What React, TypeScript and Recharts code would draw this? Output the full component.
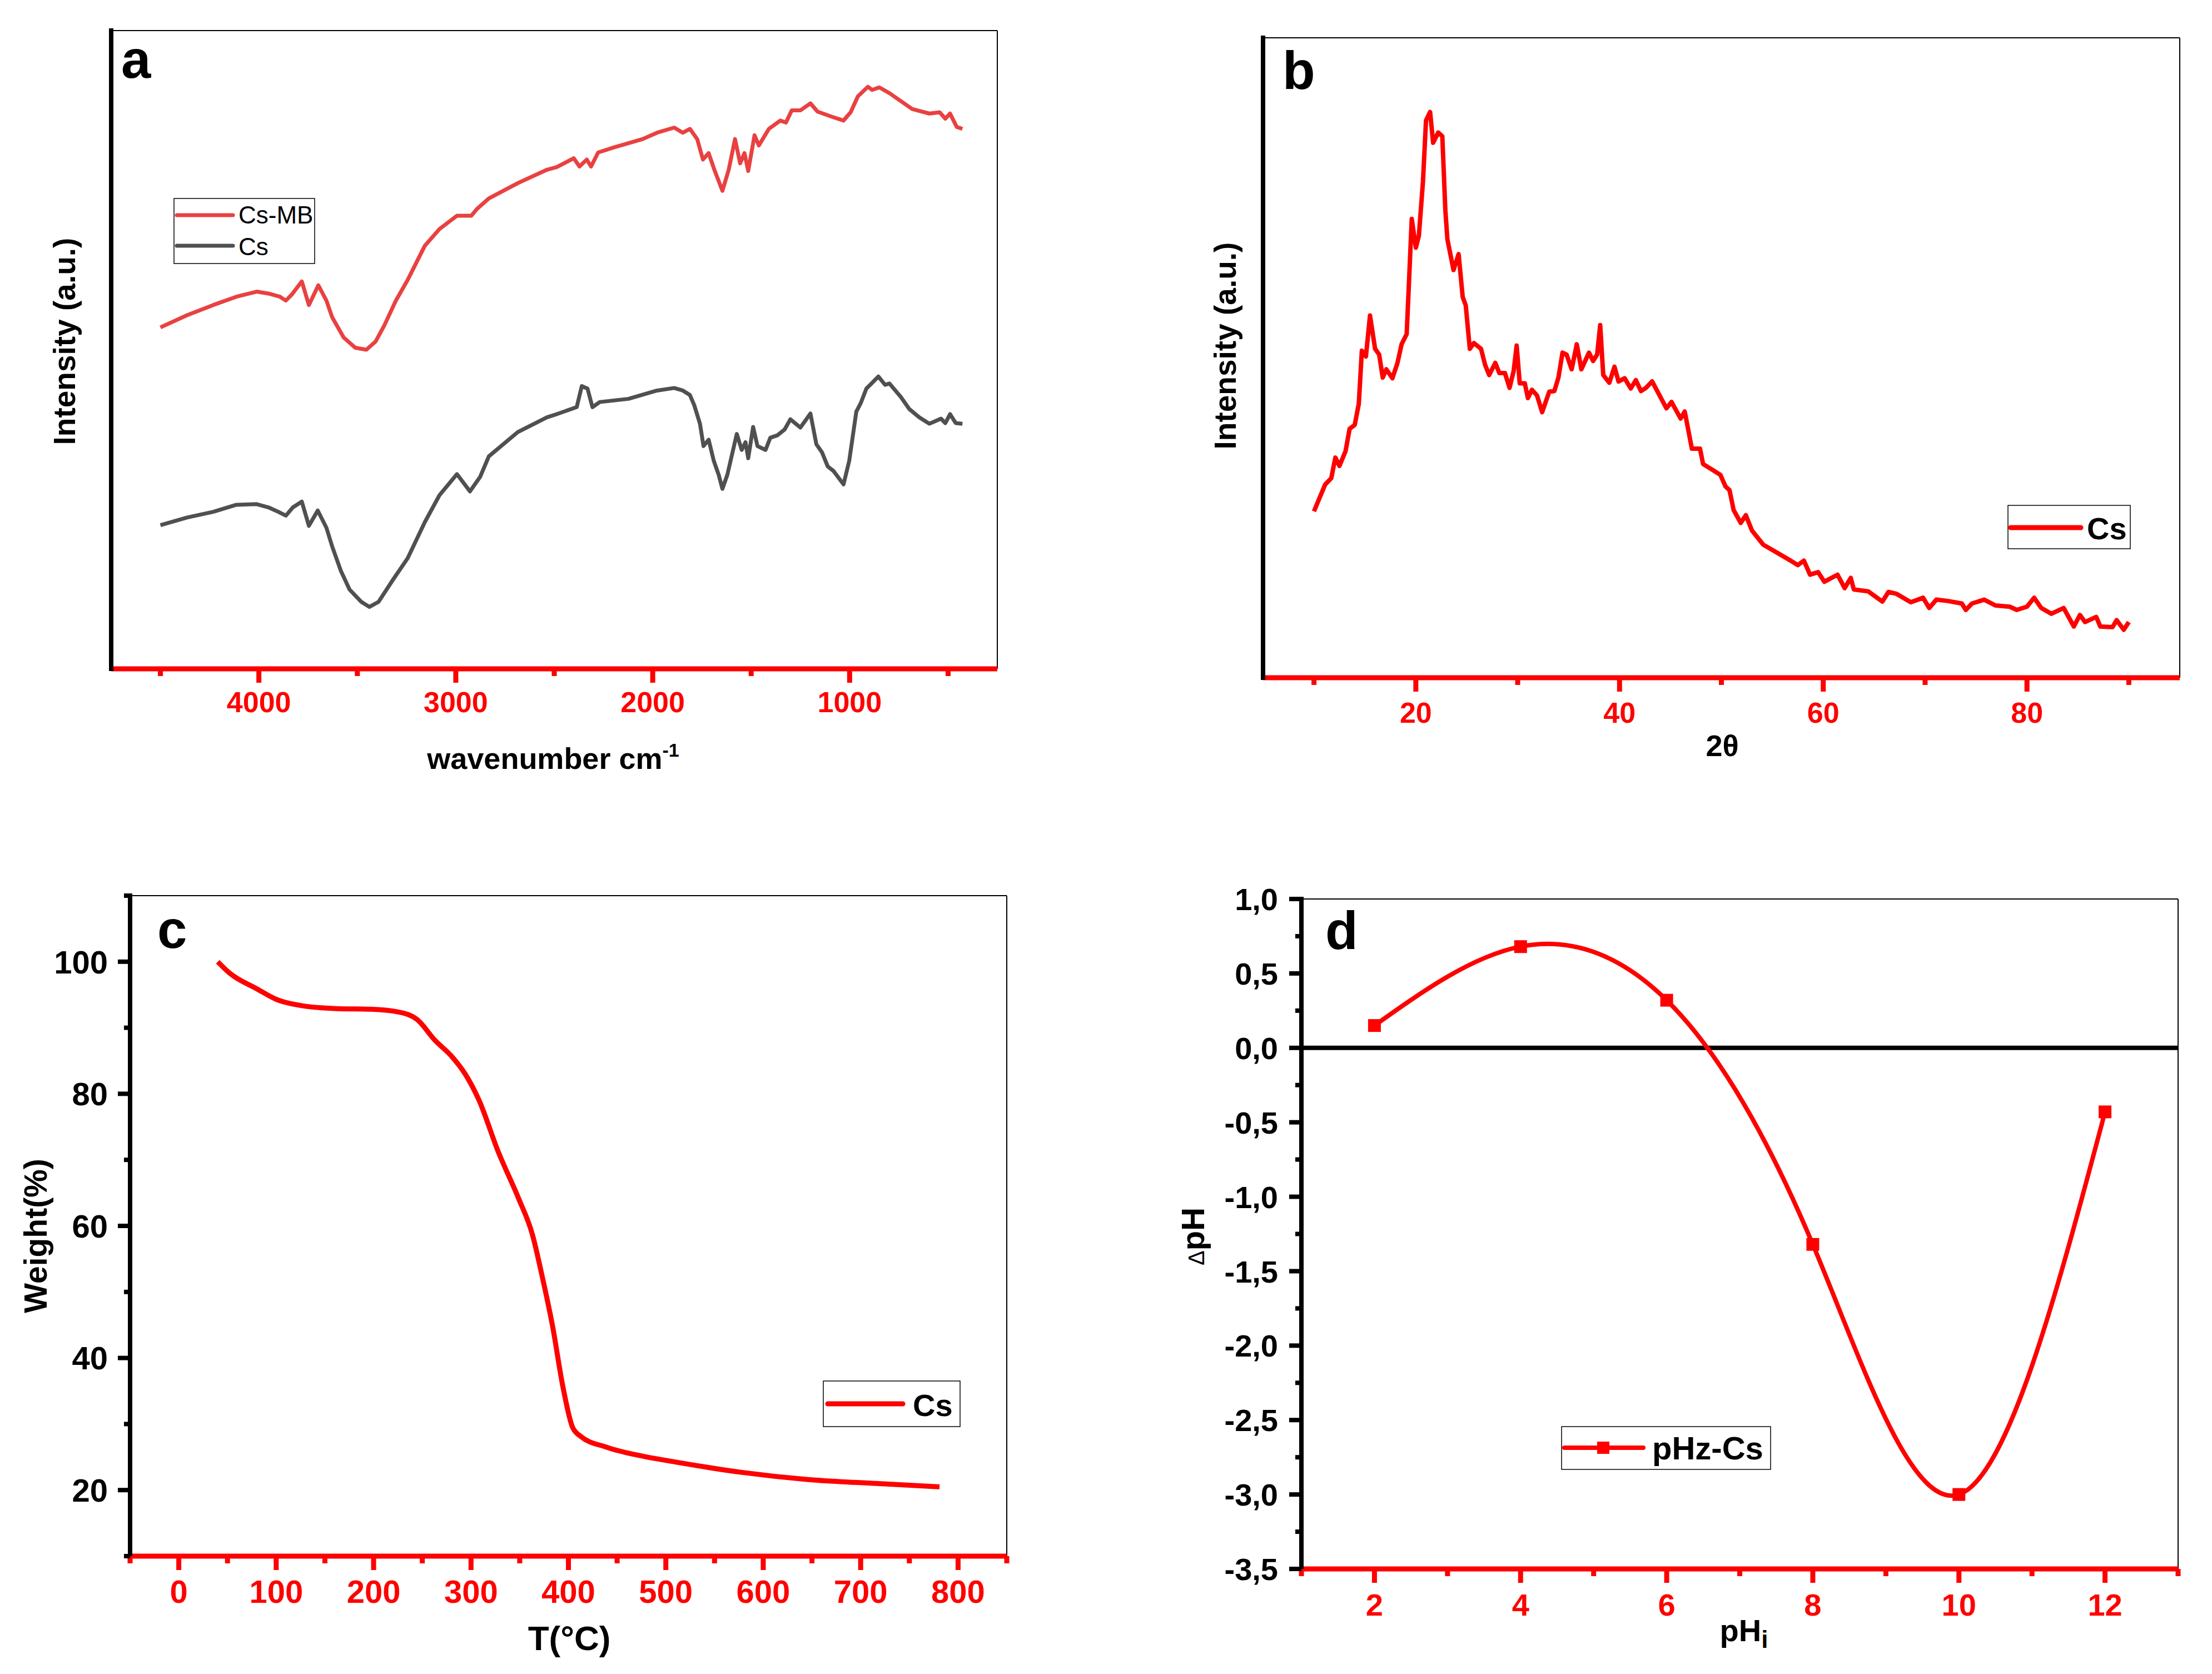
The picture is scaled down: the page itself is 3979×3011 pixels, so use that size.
import React from "react";
import { Line, LineChart, ReferenceLine, XAxis, YAxis } from "recharts";

const RED = "#FF0000";
const RED_SOFT = "#E94141";
const GRAY = "#505050";
const INK = "#000000";
const FONT = "'Liberation Sans', Arial, Helvetica, sans-serif";

// (a) FTIR, wavenumber cm-1 vs relative intensity (0-100 of the plot height)
const FTIR_CS_MB: [number, number][] = [
  [4500, 53.5], [4365, 55.4], [4232, 57.0], [4114, 58.3], [4011, 59.1], [3952, 58.8],
  [3893, 58.3], [3863, 57.7], [3834, 58.6], [3782, 60.7], [3746, 57.0], [3698, 60.1],
  [3657, 57.7], [3628, 55.1], [3569, 51.9], [3510, 50.3], [3454, 50.0], [3407, 51.3],
  [3363, 53.8], [3304, 57.7], [3245, 60.9], [3157, 66.3], [3083, 68.9], [2994, 71.0],
  [2921, 71.0], [2891, 72.1], [2832, 73.7], [2685, 76.1], [2537, 78.2], [2488, 78.6],
  [2401, 80.0], [2372, 78.7], [2335, 79.8], [2313, 78.7], [2277, 80.9], [2197, 81.7],
  [2051, 83.0], [1978, 84.0], [1891, 84.8], [1847, 84.0], [1811, 84.6], [1774, 83.0],
  [1745, 79.8], [1716, 80.8], [1687, 78.2], [1646, 74.9], [1614, 78.2], [1582, 83.0],
  [1556, 79.2], [1534, 80.8], [1515, 78.0], [1483, 83.6], [1461, 82.0], [1410, 84.6],
  [1352, 85.9], [1323, 85.6], [1294, 87.5], [1250, 87.5], [1199, 88.6], [1163, 87.3],
  [1090, 86.5], [1031, 85.9], [995, 87.2], [958, 89.7], [907, 91.2], [886, 90.7],
  [849, 91.1], [798, 90.2], [682, 87.7], [595, 87.0], [543, 87.2], [514, 86.2],
  [490, 87.0], [456, 84.9], [427, 84.6],
];
const FTIR_CS: [number, number][] = [
  [4500, 22.5], [4365, 23.7], [4232, 24.6], [4114, 25.7], [4011, 25.8], [3952, 25.3],
  [3901, 24.6], [3863, 24.0], [3827, 25.3], [3782, 26.2], [3746, 22.4], [3701, 24.8],
  [3657, 22.1], [3628, 19.2], [3583, 15.3], [3539, 12.4], [3480, 10.5], [3439, 9.7],
  [3392, 10.5], [3318, 14.0], [3245, 17.3], [3157, 23.0], [3083, 27.2], [2994, 30.5],
  [2928, 27.8], [2876, 30.1], [2832, 33.3], [2685, 37.1], [2537, 39.4], [2488, 39.9],
  [2386, 41.0], [2360, 44.3], [2331, 43.9], [2306, 41.0], [2269, 41.8], [2123, 42.3],
  [1978, 43.6], [1891, 44.0], [1847, 43.6], [1811, 42.9], [1789, 41.3], [1760, 38.4],
  [1742, 34.9], [1716, 35.9], [1690, 32.6], [1665, 30.4], [1646, 28.2], [1621, 30.4],
  [1573, 36.8], [1548, 34.3], [1529, 35.5], [1515, 33.0], [1490, 37.9], [1468, 34.9],
  [1427, 34.3], [1403, 36.2], [1366, 36.6], [1330, 37.5], [1301, 39.1], [1250, 37.8],
  [1199, 40.0], [1169, 35.2], [1140, 33.9], [1111, 31.7], [1082, 31.0], [1031, 28.9],
  [1002, 32.6], [966, 40.3], [944, 41.6], [915, 43.9], [886, 44.8], [854, 45.8],
  [820, 44.5], [798, 44.7], [740, 42.6], [697, 40.7], [646, 39.4], [595, 38.4],
  [536, 39.2], [514, 38.5], [490, 39.9], [461, 38.5], [427, 38.4],
];
const A_MAJOR = [4000, 3000, 2000, 1000];
const A_MINOR = [4500, 3500, 2500, 1500, 500];

// (b) XRD, 2theta vs relative intensity
const XRD_CS: [number, number][] = [
  [10.0, 26.0], [10.6, 28.3], [11.1, 30.2], [11.7, 31.2], [12.1, 34.4], [12.5, 33.1],
  [13.1, 35.4], [13.5, 38.9], [14.0, 39.5], [14.4, 42.8], [14.7, 51.1], [15.1, 50.2],
  [15.5, 56.6], [16.0, 51.4], [16.4, 50.5], [16.75, 46.9], [17.1, 48.2], [17.7, 46.8],
  [18.2, 49.2], [18.6, 52.1], [19.1, 53.7], [19.3, 60.8], [19.6, 71.7], [20.0, 67.2],
  [20.3, 69.1], [20.7, 77.5], [21.0, 87.1], [21.4, 88.4], [21.7, 83.6], [22.2, 85.2],
  [22.6, 84.6], [22.9, 73.0], [23.1, 68.5], [23.7, 63.7], [24.2, 66.2], [24.6, 59.5],
  [24.9, 58.2], [25.3, 51.4], [25.7, 52.3], [26.4, 51.4], [26.8, 48.9], [27.2, 47.3],
  [27.8, 49.2], [28.2, 47.6], [28.75, 47.6], [29.2, 45.3], [29.6, 47.9], [29.9, 51.9],
  [30.2, 46.0], [30.7, 46.0], [31.0, 43.7], [31.4, 45.0], [31.9, 44.1], [32.4, 41.5],
  [33.1, 44.7], [33.6, 44.8], [34.0, 46.9], [34.4, 50.8], [34.8, 50.5], [35.3, 48.2],
  [35.8, 52.1], [36.25, 48.2], [37.0, 50.8], [37.4, 49.5], [37.8, 50.5], [38.1, 55.1],
  [38.4, 47.3], [39.0, 46.1], [39.5, 48.6], [39.9, 46.3], [40.5, 46.8], [41.1, 45.2],
  [41.6, 46.5], [42.1, 44.8], [42.6, 45.3], [43.2, 46.3], [44.0, 43.9], [44.6, 42.1],
  [45.1, 43.1], [46.0, 40.5], [46.4, 41.6], [47.1, 35.8], [47.9, 35.8], [48.2, 33.4],
  [49.1, 32.5], [49.9, 31.7], [50.4, 29.9], [50.8, 29.3], [51.2, 26.2], [51.9, 24.2],
  [52.4, 25.4], [53.0, 23.0], [54.1, 20.8], [55.5, 19.5], [56.9, 18.2], [57.5, 17.6],
  [58.1, 18.3], [58.7, 16.1], [59.5, 16.5], [60.1, 15.0], [61.4, 16.1], [62.1, 14.0],
  [62.7, 15.6], [63.0, 13.8], [64.4, 13.5], [65.8, 11.9], [66.4, 13.4], [67.2, 13.1],
  [68.6, 11.8], [69.8, 12.5], [70.4, 10.9], [71.1, 12.2], [72.2, 12.0], [73.6, 11.6],
  [74.0, 10.6], [74.6, 11.6], [75.8, 12.2], [76.9, 11.3], [78.3, 11.1], [79.0, 10.6],
  [80.0, 11.1], [80.7, 12.5], [81.4, 10.9], [82.4, 10.0], [83.6, 10.9], [84.6, 8.0],
  [85.2, 9.8], [85.7, 8.7], [86.8, 9.5], [87.2, 8.0], [88.4, 7.9], [88.8, 9.0],
  [89.5, 7.5], [90.0, 8.7],
];
const B_MAJOR = [20, 40, 60, 80];
const B_MINOR = [10, 30, 50, 70, 90];

// (c) TGA, temperature vs weight %
const TGA_CS: [number, number][] = [
  [40, 100], [52, 98.3], [80, 95.9], [100, 94.3], [128, 93.3], [162, 92.9], [197, 92.8],
  [225, 92.4], [245, 91.2], [263, 88.1], [280, 85.7], [294, 83.0], [308, 79.1],
  [328, 71.2], [349, 64.1], [363, 58.7], [373, 52.4], [384, 44.6], [394, 35.9],
  [404, 29.6], [412, 28.2], [439, 26.5], [474, 25.2], [508, 24.3], [577, 22.7],
  [646, 21.6], [716, 21.0], [781, 20.5],
];
const C_X_MAJOR = [0, 100, 200, 300, 400, 500, 600, 700, 800];
const C_X_MINOR = [-50, 50, 150, 250, 350, 450, 550, 650, 750, 850];
const C_Y_MAJOR = [20, 40, 60, 80, 100];
const C_Y_MINOR = [10, 30, 50, 70, 90, 110];

// (d) point of zero charge
const PH_INITIAL = [2, 4, 6, 8, 10, 12];
const DELTA_PH = [0.15, 0.68, 0.32, -1.32, -3.0, -0.43];
const D_X_MAJOR = [2, 4, 6, 8, 10, 12];
const D_X_MINOR = [1, 3, 5, 7, 9, 11, 13];
const D_Y_MAJOR = [-3.5, -3.0, -2.5, -2.0, -1.5, -1.0, -0.5, 0, 0.5, 1.0];
const D_Y_MINOR = [-3.25, -2.75, -2.25, -1.75, -1.25, -0.75, -0.25, 0.25, 0.75];

const toPoints = (rows: [number, number][]) => rows.map(([x, v]) => ({ x, v }));
const pzcData = PH_INITIAL.map((x, i) => ({ x, v: DELTA_PH[i] }));
const comma = (v: number) => v.toFixed(1).replace(".", ",");

const PAD = { l: 260, t: 40, r: 40, b: 220 };

function frame(x0: number, y0: number, x1: number, y1: number) {
  return {
    style: { position: "absolute" as const, left: x0 - PAD.l, top: y0 - PAD.t },
    width: x1 - x0 + PAD.l + PAD.r,
    height: y1 - y0 + PAD.t + PAD.b,
  };
}

type TickProps = { x: number; y: number; payload: { value: number } };

function xTick(major: number[], size: number, gap: number, fmt: (v: number) => string = String) {
  return (p: TickProps) => {
    const big = major.includes(p.payload.value);
    return (
      <g>
        <line x1={p.x} x2={p.x} y1={p.y} y2={p.y + (big ? 25 : 13)} stroke={RED} strokeWidth={9} />
        {big && (
          <text x={p.x} y={p.y + gap} textAnchor="middle" fill={RED} fontSize={size} fontWeight="bold" fontFamily={FONT}>
            {fmt(p.payload.value)}
          </text>
        )}
      </g>
    );
  };
}

function yTick(major: number[], size: number, gap: number, fmt: (v: number) => string = String) {
  return (p: TickProps) => {
    const big = major.includes(p.payload.value);
    return (
      <g>
        <line x1={p.x} x2={p.x - (big ? 22 : 11)} y1={p.y} y2={p.y} stroke={INK} strokeWidth={8} />
        {big && (
          <text x={p.x - gap} y={p.y + size * 0.36} textAnchor="end" fill={INK} fontSize={size} fontWeight="bold" fontFamily={FONT}>
            {fmt(p.payload.value)}
          </text>
        )}
      </g>
    );
  };
}

const redAxis = { stroke: RED, strokeWidth: 9 };
const blackAxis = { stroke: INK, strokeWidth: 8, strokeLinecap: "square" as const };
const margin = { top: PAD.t, right: PAD.r, bottom: 0, left: 0 };

function FtirPanel() {
  const f = frame(200, 55, 1794, 1203);
  return (
    <div style={f.style}>
      <LineChart width={f.width} height={f.height} margin={margin}>
        <XAxis type="number" dataKey="x" domain={[250, 4750]} reversed allowDataOverflow
          ticks={[...A_MAJOR, ...A_MINOR]} interval={0} tickSize={0} tickMargin={0} tickLine={false}
          tick={xTick(A_MAJOR, 52, 78)} axisLine={redAxis} height={PAD.b} />
        <YAxis type="number" domain={[0, 100]} allowDataOverflow width={PAD.l} tick={false} tickLine={false} axisLine={blackAxis} />
        <ReferenceLine y={100} stroke={INK} strokeWidth={2} />
        <ReferenceLine x={250} stroke={INK} strokeWidth={2} />
        <Line data={toPoints(FTIR_CS_MB)} dataKey="v" type="linear" stroke={RED_SOFT} strokeWidth={7} dot={false} isAnimationActive={false} strokeLinejoin="round" />
        <Line data={toPoints(FTIR_CS)} dataKey="v" type="linear" stroke={GRAY} strokeWidth={7} dot={false} isAnimationActive={false} strokeLinejoin="round" />
      </LineChart>
    </div>
  );
}

function XrdPanel() {
  const f = frame(2272, 68, 3921, 1219);
  return (
    <div style={f.style}>
      <LineChart width={f.width} height={f.height} margin={margin} data={toPoints(XRD_CS)}>
        <XAxis type="number" dataKey="x" domain={[5, 95]} allowDataOverflow
          ticks={[...B_MAJOR, ...B_MINOR]} interval={0} tickSize={0} tickMargin={0} tickLine={false}
          tick={xTick(B_MAJOR, 52, 81)} axisLine={redAxis} height={PAD.b} />
        <YAxis type="number" domain={[0, 100]} allowDataOverflow width={PAD.l} tick={false} tickLine={false} axisLine={blackAxis} />
        <ReferenceLine y={100} stroke={INK} strokeWidth={2} />
        <ReferenceLine x={95} stroke={INK} strokeWidth={2} />
        <Line dataKey="v" type="linear" stroke={RED} strokeWidth={8} dot={false} isAnimationActive={false} strokeLinejoin="round" />
      </LineChart>
    </div>
  );
}

function TgaPanel() {
  const f = frame(234, 1611, 1811, 2799);
  return (
    <div style={f.style}>
      <LineChart width={f.width} height={f.height} margin={margin} data={toPoints(TGA_CS)}>
        <XAxis type="number" dataKey="x" domain={[-50, 850]} allowDataOverflow
          ticks={[...C_X_MAJOR, ...C_X_MINOR]} interval={0} tickSize={0} tickMargin={0} tickLine={false}
          tick={xTick(C_X_MAJOR, 58, 84)} axisLine={redAxis} height={PAD.b} />
        <YAxis type="number" domain={[10, 110]} allowDataOverflow width={PAD.l}
          ticks={[...C_Y_MAJOR, ...C_Y_MINOR]} interval={0} tickSize={0} tickMargin={0} tickLine={false}
          tick={yTick(C_Y_MAJOR, 58, 40)} axisLine={blackAxis} />
        <ReferenceLine y={110} stroke={INK} strokeWidth={2} />
        <ReferenceLine x={850} stroke={INK} strokeWidth={2} />
        <Line dataKey="v" type="monotone" stroke={RED} strokeWidth={9} dot={false} isAnimationActive={false} />
      </LineChart>
    </div>
  );
}

function PzcPanel() {
  const f = frame(2341, 1617, 3918, 2822);
  return (
    <div style={f.style}>
      <LineChart width={f.width} height={f.height} margin={margin} data={pzcData}>
        <XAxis type="number" dataKey="x" domain={[1, 13]} allowDataOverflow
          ticks={[...D_X_MAJOR, ...D_X_MINOR]} interval={0} tickSize={0} tickMargin={0} tickLine={false}
          tick={xTick(D_X_MAJOR, 56, 84)} axisLine={redAxis} height={PAD.b} />
        <YAxis type="number" domain={[-3.5, 1.0]} allowDataOverflow width={PAD.l}
          ticks={[...D_Y_MAJOR, ...D_Y_MINOR]} interval={0} tickSize={0} tickMargin={0} tickLine={false}
          tick={yTick(D_Y_MAJOR, 56, 42, comma)} axisLine={blackAxis} />
        <ReferenceLine y={1.0} stroke={INK} strokeWidth={2} />
        <ReferenceLine x={13} stroke={INK} strokeWidth={2} />
        <ReferenceLine y={0} stroke={INK} strokeWidth={8} />
        <Line dataKey="v" type="natural" stroke={RED} strokeWidth={8} isAnimationActive={false}
          dot={(p: { cx: number; cy: number; index: number }) => (
            <rect key={`sq-${p.index}`} x={p.cx - 11.5} y={p.cy - 11.5} width={23} height={23} fill={RED} />
          )} />
      </LineChart>
    </div>
  );
}

function Annotations() {
  const bold = { fontFamily: FONT, fontWeight: "bold" as const, fill: INK };
  return (
    <svg width={3979} height={3011} style={{ position: "absolute", left: 0, top: 0, pointerEvents: "none" }}>
      {/* panel letters */}
      <text x={218} y={140} fontSize={96} {...bold}>a</text>
      <text x={2307} y={160} fontSize={96} {...bold}>b</text>
      <text x={283} y={1705} fontSize={96} {...bold}>c</text>
      <text x={2384} y={1707} fontSize={96} {...bold}>d</text>

      {/* axis titles */}
      <text transform="translate(135,614) rotate(-90)" textAnchor="middle" fontSize={55} {...bold}>Intensity (a.u.)</text>
      <text x={995} y={1383} textAnchor="middle" fontSize={54} {...bold}>
        wavenumber cm<tspan fontSize={34} dy={-22}>-1</tspan>
      </text>
      <text transform="translate(2223,622) rotate(-90)" textAnchor="middle" fontSize={55} {...bold}>Intensity (a.u.)</text>
      <text x={3098} y={1360} textAnchor="middle" fontSize={54} {...bold}>2θ</text>
      <text transform="translate(84,2223) rotate(-90)" textAnchor="middle" fontSize={57} {...bold}>Weight(%)</text>
      <text x={1024} y={2968} textAnchor="middle" fontSize={62} {...bold}>T(°C)</text>
      <text transform="translate(2166,2224) rotate(-90)" textAnchor="middle" {...bold}>
        <tspan fontSize={40} fontWeight="normal">Δ</tspan>
        <tspan fontSize={58}>pH</tspan>
      </text>
      <text x={3137} y={2952} textAnchor="middle" {...bold}>
        <tspan fontSize={56}>pH</tspan>
        <tspan fontSize={44} dy={12}>i</tspan>
      </text>

      {/* legends */}
      <rect x={313} y={357} width={253} height={117} fill="#fff" stroke={INK} strokeWidth={1.5} />
      <line x1={318} x2={419} y1={387} y2={387} stroke={RED_SOFT} strokeWidth={7} strokeLinecap="round" />
      <line x1={318} x2={419} y1={442} y2={442} stroke={GRAY} strokeWidth={7} strokeLinecap="round" />
      <text x={429} y={402} fontSize={44} fontFamily={FONT} fill={INK}>Cs-MB</text>
      <text x={429} y={459} fontSize={44} fontFamily={FONT} fill={INK}>Cs</text>

      <rect x={3612} y={909} width={220} height={78} fill="#fff" stroke={INK} strokeWidth={1.5} />
      <line x1={3617} x2={3743} y1={949} y2={949} stroke={RED} strokeWidth={9} strokeLinecap="round" />
      <text x={3754} y={970} fontSize={56} {...bold}>Cs</text>

      <rect x={1481} y={2484} width={246} height={82} fill="#fff" stroke={INK} strokeWidth={1.5} />
      <line x1={1489} x2={1624} y1={2525} y2={2525} stroke={RED} strokeWidth={9} strokeLinecap="round" />
      <text x={1642} y={2547} fontSize={56} {...bold}>Cs</text>

      <rect x={2809} y={2566} width={376} height={77} fill="#fff" stroke={INK} strokeWidth={1.5} />
      <line x1={2814} x2={2956} y1={2604} y2={2604} stroke={RED} strokeWidth={8} strokeLinecap="round" />
      <rect x={2873} y={2593} width={22} height={22} fill={RED} />
      <text x={2972} y={2625} fontSize={58} {...bold}>pHz-Cs</text>
    </svg>
  );
}

export default function App() {
  return (
    <div style={{ position: "absolute", left: 0, top: 0, width: 3979, height: 3011, background: "#fff", fontFamily: FONT }}>
      <FtirPanel />
      <XrdPanel />
      <TgaPanel />
      <PzcPanel />
      <Annotations />
    </div>
  );
}
